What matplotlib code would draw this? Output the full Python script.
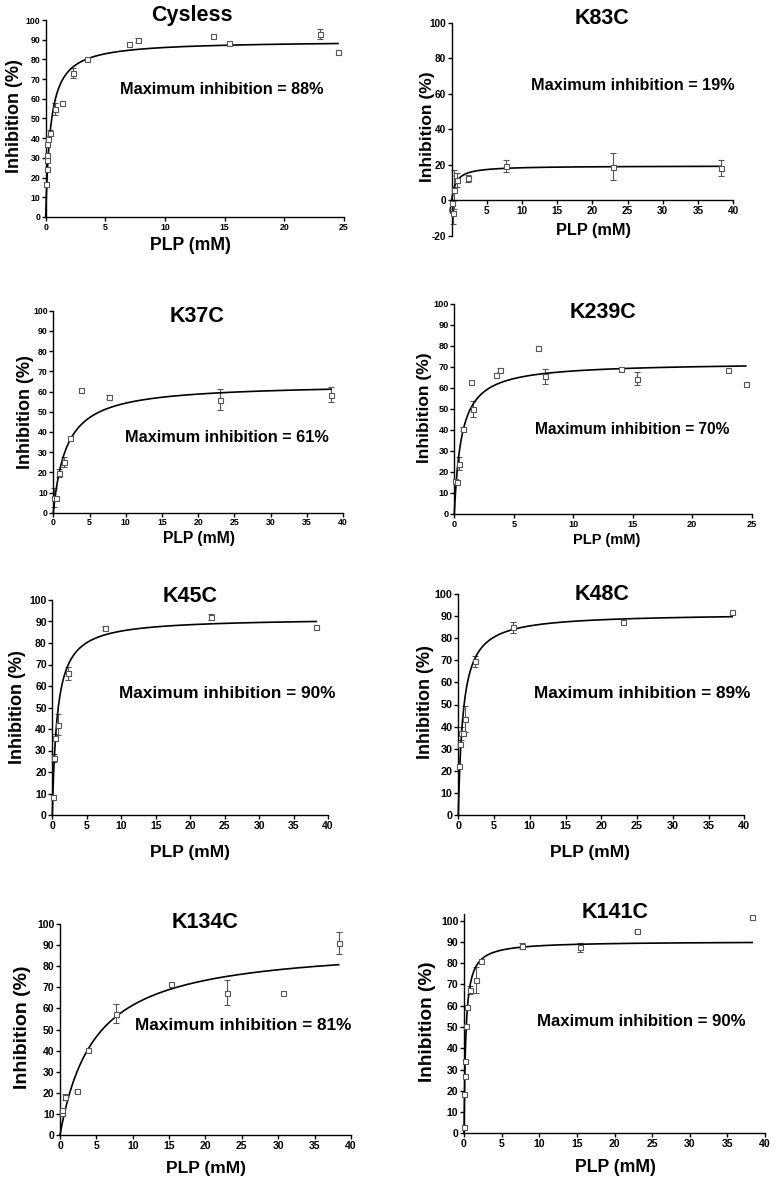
import numpy as np
import matplotlib
matplotlib.use("Agg")
import matplotlib.pyplot as plt

plt.rcParams['font.family'] = ['Liberation Sans', 'DejaVu Sans']
plt.rcParams['font.weight'] = 'bold'
plt.rcParams['axes.unicode_minus'] = False

W, H = 778, 1185

# ---------------- data ----------------
titles = ["Cysless", "K83C", "K37C", "K239C", "K45C", "K48C", "K134C", "K141C"]
max_labels = ["88%", "19%", "61%", "70%", "90%", "89%", "81%", "90%"]

cysless_x = [0.05, 0.08, 0.1, 0.13, 0.15, 0.2, 0.4, 0.8, 1.4, 2.3, 3.5, 7.0, 7.7, 14.0, 15.4, 23.0, 24.5]
cysless_y = [17, 24.5, 29, 31.5, 37, 39.5, 42.5, 55, 58, 73, 80, 88, 90, 92, 88.5, 93, 84]
cysless_e = [0, 0, 0, 0, 0, 0, 1.5, 3, 0, 2.5, 0, 0, 1, 0, 0, 2.5, 0]

k83c_x = [0.1, 0.15, 0.3, 0.8, 2.3, 7.7, 23.0, 38.3]
k83c_y = [-1.5, -7, 6, 11.5, 12.5, 19.5, 19, 18.5]
k83c_e = [0, 6.5, 11, 4, 2, 3.5, 7.5, 4.5]

k37c_x = [0.1, 0.4, 0.8, 1.5, 2.3, 3.85, 7.7, 23.0, 38.3]
k37c_y = [7.5, 7.5, 19.5, 25, 37, 60.5, 57.5, 56, 58.5]
k37c_e = [4.5, 0, 2, 2.5, 0, 0, 1, 5, 3.5]

k239c_x = [0.06, 0.2, 0.4, 0.77, 1.37, 1.54, 3.5, 3.8, 7.0, 7.65, 14.0, 15.35, 23.0, 24.5]
k239c_y = [15.5, 15, 24, 40.5, 63, 50, 66, 68.5, 79, 65.5, 69, 64.5, 68.5, 62]
k239c_e = [0, 0, 3, 1, 0, 4, 0, 1, 0, 3.5, 0, 3, 0, 0]

k45c_x = [0.15, 0.3, 0.45, 0.8, 2.3, 7.7, 23.0, 38.3]
k45c_y = [8.5, 26.5, 36, 42, 66, 87, 92, 87.5]
k45c_e = [0, 2, 1.5, 5, 3, 1, 1.5, 0]

k48c_x = [0.1, 0.25, 0.4, 0.6, 0.9, 2.3, 7.7, 23.0, 38.3]
k48c_y = [22, 32, 37, 37, 43.5, 69.5, 85, 87.5, 92]
k48c_e = [0, 0, 3, 1, 6, 2.5, 2.5, 0, 0]

k134c_x = [0.25, 0.3, 0.75, 2.3, 3.9, 7.65, 15.3, 23.0, 30.7, 38.3]
k134c_y = [10.5, 12, 18, 21, 40.5, 57.5, 71.5, 67.5, 67.5, 91]
k134c_e = [1.5, 0, 1.5, 0.5, 0, 4.5, 0, 6, 0, 5]

k141c_x = [0.02, 0.05, 0.12, 0.18, 0.27, 0.45, 0.85, 1.6, 2.3, 7.7, 15.4, 23.0, 38.3]
k141c_y = [3, 18.5, 27, 34, 50.5, 59.5, 67.5, 72, 81, 88, 87.5, 95, 101.5]
k141c_e = [0, 0, 0, 0, 0, 0, 2, 6, 0, 1.5, 2, 0.5, 0]

# hyperbolic fit parameters (Bmax, Kd)
fit_bmax = [89.5, 19.5, 64.0, 72.2, 91.7, 91.3, 90.7, 90.3]
fit_kd = [0.4, 0.6, 1.8, 0.6, 0.72, 0.67, 4.74, 0.24]

series = [
    (cysless_x, cysless_y, cysless_e),
    (k83c_x, k83c_y, k83c_e),
    (k37c_x, k37c_y, k37c_e),
    (k239c_x, k239c_y, k239c_e),
    (k45c_x, k45c_y, k45c_e),
    (k48c_x, k48c_y, k48c_e),
    (k134c_x, k134c_y, k134c_e),
    (k141c_x, k141c_y, k141c_e),
]

xlims = [(0, 25), (0, 40), (0, 40), (0, 25), (0, 40), (0, 40), (0, 40), (0, 40)]
ylims = [(0, 100), (-20, 100), (0, 100), (0, 100), (0, 100), (0, 100), (0, 100), (0, 103)]
yticks = [np.arange(0, 101, 10), np.arange(-20, 101, 20)] + [np.arange(0, 101, 10)] * 6
xticks = [np.arange(0, 26, 5), np.arange(0, 41, 5), np.arange(0, 41, 5), np.arange(0, 26, 5),
          np.arange(0, 41, 5), np.arange(0, 41, 5), np.arange(0, 41, 5), np.arange(0, 41, 5)]

# ---------------- layout (pixels) ----------------
# left, right (x at xmax), top (y at ymax), bottom (y at ymin)
boxes = [
    (45.7, 344, 20, 217),
    (451.7, 733, 22.7, 236),
    (53.3, 343, 310.7, 512.7),
    (454.3, 751.7, 304, 514),
    (52.3, 328, 600, 815),
    (458.3, 744.3, 594, 815),
    (60, 351, 924, 1135),
    (464, 765, 914.3, 1133.3),
]
title_pos = [(192, 15), (602, 18), (197, 317), (603, 312), (190, 597), (602, 594), (205, 922), (615, 912)]
xlabel_pos = [(190, 245), (593, 230), (199, 538), (607, 540), (190, 852), (590, 852), (206, 1168), (615, 1168)]
ylabel_pos = [(15, 116), (427, 127), (25, 412), (425, 408), (18, 707), (425, 702), (23, 1027), (428, 1022)]
ann_pos = [(222, 90), (633, 85), (227, 437), (632, 430), (227, 693), (642, 693), (243, 1025), (641, 1021)]

tick_fs = [6.3, 7.2, 6.3, 6.6, 7.5, 7.8, 7.5, 7.6]
ylab_fs = [13, 12.5, 13, 12.5, 13, 13, 14, 13.7]
xlab_fs = [12.7, 11.7, 11.3, 10.5, 12.5, 12.5, 12.5, 12.7]
ann_fs = [11.7, 11.7, 11.7, 11.2, 12.4, 12.4, 12.4, 12.1]
title_fs = 15.5


def fx(px):
    return px / W


def fy(py):
    return 1 - py / H


fig = plt.figure(figsize=(W / 100, H / 100), dpi=100)
fig.patch.set_facecolor('white')

for i in range(8):
    l, r, t, b = boxes[i]
    ax = fig.add_axes([fx(l), fy(b), (r - l) / W, (b - t) / H])
    xs, ys, es = series[i]
    ax.set_xlim(*xlims[i])
    ax.set_ylim(*ylims[i])
    ax.set_xticks(xticks[i])
    ax.set_yticks(yticks[i])
    for s in ['top', 'right']:
        ax.spines[s].set_visible(False)
    for s in ['left', 'bottom']:
        ax.spines[s].set_linewidth(1.0)
    if i == 1:
        ax.spines['bottom'].set_position(('data', 0))
    ax.tick_params(direction='out', length=3, width=1, pad=1, labelsize=tick_fs[i])
    for lab in ax.get_xticklabels() + ax.get_yticklabels():
        lab.set_fontweight('bold')

    # fit curve
    xx = np.linspace(0, max(xs), 400)
    yy = fit_bmax[i] * xx / (fit_kd[i] + xx)
    ax.plot(xx, yy, color='black', lw=1.2, clip_on=False, zorder=3)

    # error bars & points
    xa, ya, ea = np.array(xs), np.array(ys), np.array(es)
    m = ea > 0
    if m.any():
        ax.errorbar(xa[m], ya[m], yerr=ea[m], fmt='none', ecolor='#555555', elinewidth=0.8,
                    capsize=2, capthick=0.8, clip_on=False, zorder=2)
    ax.plot(xa, ya, linestyle='none', marker='s', ms=3.6, mfc='white', mec='#555555', mew=0.8,
            clip_on=False, zorder=4)

    fig.text(fx(title_pos[i][0]), fy(title_pos[i][1]), titles[i], ha='center', va='center',
             fontsize=title_fs, fontweight='bold')
    fig.text(fx(xlabel_pos[i][0]), fy(xlabel_pos[i][1]), "PLP (mM)", ha='center', va='center',
             fontsize=xlab_fs[i], fontweight='bold')
    fig.text(fx(ylabel_pos[i][0]), fy(ylabel_pos[i][1]), "Inhibition (%)", ha='center', va='center',
             rotation=90, fontsize=ylab_fs[i], fontweight='bold')
    fig.text(fx(ann_pos[i][0]), fy(ann_pos[i][1]), "Maximum inhibition = " + max_labels[i],
             ha='center', va='center', fontsize=ann_fs[i], fontweight='bold')

fig.savefig("out.png", dpi=100, facecolor='white')
